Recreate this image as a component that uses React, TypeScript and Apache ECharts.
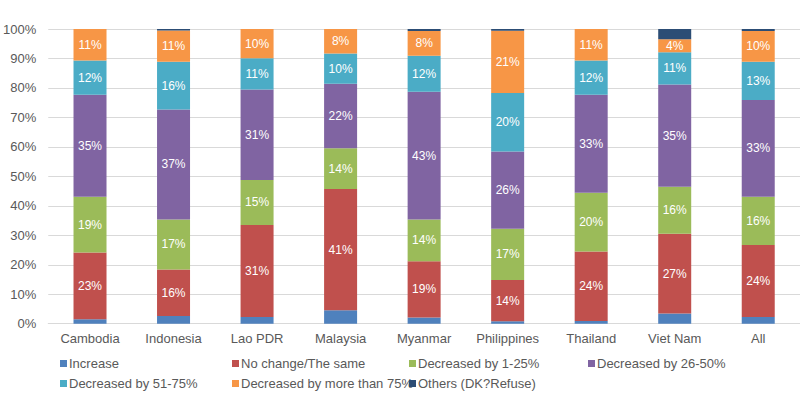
import React, { useEffect, useRef } from "react";
import * as echarts from "echarts";

const categories = ["Cambodia", "Indonesia", "Lao PDR", "Malaysia", "Myanmar", "Philippines", "Thailand", "Viet Nam", "All"];

const increase = [1.5, 2.6, 2.3, 4.6, 2.1, 0.8, 0.9, 3.5, 2.3];
const noChange = [22.7, 15.8, 31.2, 41.1, 19.1, 14.0, 23.6, 27.0, 24.4];
const dec1to25 = [18.9, 17.0, 15.3, 13.8, 14.2, 17.4, 19.9, 16.0, 16.4];
const dec26to50 = [34.6, 37.3, 30.7, 21.9, 43.3, 26.2, 33.3, 34.7, 32.8];
const dec51to75 = [11.6, 16.2, 10.6, 10.3, 12.2, 19.9, 11.6, 10.9, 13.0];
const decMore75 = [10.7, 10.6, 9.9, 8.3, 8.4, 21.1, 10.7, 4.4, 10.4];
const others = [0, 0.5, 0, 0, 0.7, 0.6, 0, 3.5, 0.7];

const seriesNames = [
  "Increase",
  "No change/The same",
  "Decreased by 1-25%",
  "Decreased by 26-50%",
  "Decreased by 51-75%",
  "Decreased by more than 75%",
  "Others (DK?Refuse)",
];
const seriesData = [increase, noChange, dec1to25, dec26to50, dec51to75, decMore75, others];
const colors = ["#4F81BD", "#C0504D", "#9BBB59", "#8064A2", "#4BACC6", "#F79646", "#2C4D75"];
const showLabel = [false, true, true, true, true, true, false];

const yTicks = [0, 10, 20, 30, 40, 50, 60, 70, 80, 90, 100];

export default function App() {
  const ref = useRef<HTMLDivElement>(null);
  useEffect(() => {
    document.body.style.margin = "0";
    const chart = echarts.init(ref.current!, null, { renderer: "svg" });
    const font = "Liberation Sans, Arial, sans-serif";
    const legendPos = [
      [60, 357],
      [232, 357],
      [409, 357],
      [588, 357],
      [60, 377],
      [232, 377],
      [409, 377],
    ];
    chart.setOption({
      animation: false,
      backgroundColor: "#ffffff",
      textStyle: { fontFamily: font },
      grid: { left: 47, right: -5, top: 29, bottom: 74.3, containLabel: false },
      legend: seriesNames.map((n, i) => ({
        data: [n],
        left: legendPos[i][0],
        top: legendPos[i][1],
        itemWidth: 7,
        itemHeight: 7,
        icon: "rect",
        padding: 0,
        textStyle: { color: "#595959", fontSize: 13, fontFamily: font, padding: [0, 0, 0, -3] },
        selectedMode: false,
      })),
      xAxis: {
        type: "category",
        data: categories,
        axisLine: { lineStyle: { color: "#d9d9d9", width: 1 } },
        axisTick: { show: false },
        axisLabel: { color: "#595959", fontSize: 13, margin: 8, fontFamily: font },
      },
      yAxis: {
        type: "value",
        min: yTicks[0],
        max: yTicks[yTicks.length - 1],
        interval: 10,
        axisLine: { show: false },
        axisTick: { show: false },
        splitLine: { lineStyle: { color: "#d9d9d9", width: 1 } },
        axisLabel: { color: "#595959", fontSize: 13, margin: 12, formatter: "{value}%", fontFamily: font },
      },
      series: seriesNames.map((n, i) => ({
        name: n,
        type: "bar",
        stack: "total",
        barWidth: 33,
        data: seriesData[i],
        itemStyle: { color: colors[i] },
        label: {
          show: showLabel[i],
          position: "inside",
          color: "#ffffff",
          fontSize: 12,
          fontFamily: font,
          formatter: (p: any) => Math.round(p.value) + "%",
        },
      })),
    });
    return () => chart.dispose();
  }, []);
  return <div ref={ref} style={{ width: 800, height: 398, position: "absolute", left: 0, top: 0 }} />;
}
